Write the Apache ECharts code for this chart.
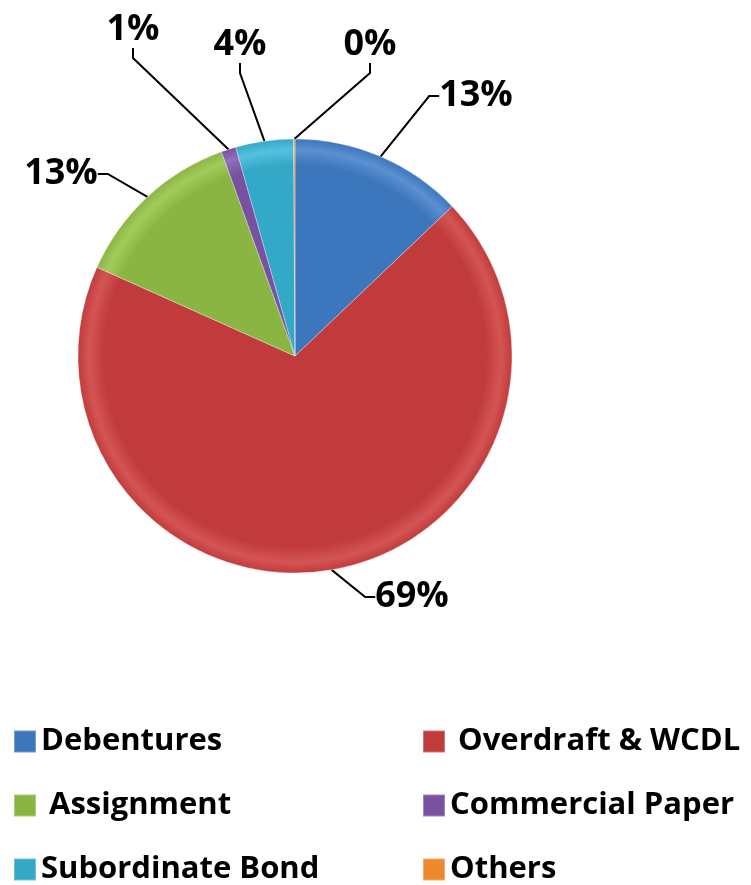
<!DOCTYPE html>
<html>
<head>
<meta charset="utf-8">
<script src="https://cdn.jsdelivr.net/npm/echarts@6/dist/echarts.min.js"></script>
<style>
  html, body { margin: 0; padding: 0; background: #fff; }
  #main { width: 751px; height: 885px; }
</style>
</head>
<body>
<div id="main"></div>
<script>
// 数据
var categories = ['Debentures', ' Overdraft & WCDL', ' Assignment', 'Commercial Paper', 'Subordinate Bond', 'Others'];
var shares = [12.9, 68.8, 12.8, 1.1, 4.3, 0.1];
var legendLeft = ['Debentures', ' Assignment', 'Subordinate Bond'];
var legendRight = [' Overdraft & WCDL', 'Commercial Paper', 'Others'];

var colors = ['#3c76bc', '#c13b3c', '#8bb543', '#7852a0', '#34a8c7', '#ee892d'];
var rims = ['#5b90d2', '#d45555', '#a2cb5c', '#9070b8', '#55c1de', '#f9a559'];
// label centres
var labelSpots = [[476, 96], [412, 597], [61, 174], [133, 30], [240, 45], [370, 45]];

var cx = 295, cy = 356, R = 217;

var pieData = [];
for (var i = 0; i < categories.length; i++) {
    pieData.push({
        name: categories[i],
        value: shares[i],
        itemStyle: {
            color: {
                type: 'radial', x: cx, y: cy, r: R, global: true,
                colorStops: [
                    { offset: 0, color: colors[i] },
                    { offset: 0.88, color: colors[i] },
                    { offset: 0.95, color: rims[i] },
                    { offset: 1, color: colors[i] }
                ]
            }
        }
    });
}

var myChart = echarts.init(document.getElementById('main'));

var legendText = {
    color: '#000',
    fontFamily: 'Open Sans',
    fontWeight: 'bold',
    fontSize: 31
};

var option = {
    color: colors,
    animation: false,
    legend: [{
        data: legendLeft,
        orient: 'vertical',
        left: 13,
        top: 726,
        height: 220,
        padding: 0,
        itemWidth: 22,
        itemHeight: 22,
        itemGap: 33,
        icon: 'rect',
        textStyle: legendText
    }, {
        data: legendRight,
        orient: 'vertical',
        left: 422,
        top: 726,
        height: 220,
        padding: 0,
        itemWidth: 22,
        itemHeight: 22,
        itemGap: 33,
        icon: 'rect',
        textStyle: legendText
    }],
    series: [{
        type: 'pie',
        center: [cx, cy],
        radius: R,
        startAngle: 90,
        clockwise: true,
        data: pieData,
        itemStyle: {
            borderColor: 'rgba(255,255,255,0.3)',
            borderWidth: 1
        },
        label: {
            show: true,
            position: 'outside',
            overflow: 'none',
            formatter: function (p) {
                return Math.round(p.percent) + '%';
            },
            color: '#000',
            fontFamily: 'Open Sans',
            fontWeight: 'bold',
            fontSize: 36
        },
        labelLine: {
            show: true,
            length: 30,
            length2: 10,
            lineStyle: { color: '#000', width: 2 }
        },
        labelLayout: function (params) {
            var s = labelSpots[params.dataIndex];
            return {
                x: s[0],
                y: s[1],
                align: 'center',
                verticalAlign: 'middle'
            };
        }
    }]
};

myChart.setOption(option);
</script>
</body>
</html>
